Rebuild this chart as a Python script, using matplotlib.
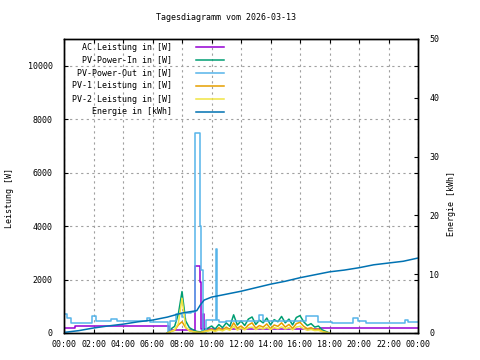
import matplotlib
matplotlib.use("Agg")
import matplotlib.pyplot as plt
from matplotlib.lines import Line2D

# time in hours of the day
t_ac = [0.0, 0.75, 7.1, 8.9, 9.25, 9.3, 9.45, 9.5, 17.35, 24.0]
ac_power = [200, 260, 120, 2500, 1900, 150, 700, 150, 175, 175]

t_out = [0.0, 0.2, 0.45, 1.9, 2.2, 3.2, 3.6, 5.6, 5.8, 7.05, 7.2, 7.6, 8.0, 8.2, 8.6,
         8.9, 9.25, 9.27, 9.4, 9.45, 9.6, 10.3, 10.4, 10.5, 11.0, 13.2, 13.5,
         16.4, 17.2, 18.2, 19.6, 19.95, 20.5, 23.1, 23.3, 24.0]
pv_out = [700, 560, 380, 620, 460, 530, 460, 560, 430, 0, 450, 700, 600, 750, 800,
          7500, 4000, 2350, 1875, 0, 500, 3150, 500, 420, 460, 675, 460,
          650, 425, 385, 550, 450, 385, 490, 420, 420]

t_pv = [7.0, 7.25, 7.5, 7.75, 8.0, 8.25, 8.5, 8.75, 9.0, 9.25, 9.5, 9.75,
        10.0, 10.25, 10.5, 10.75, 11.0, 11.25, 11.5, 11.75, 12.0, 12.25, 12.5, 12.75,
        13.0, 13.25, 13.5, 13.75, 14.0, 14.25, 14.5, 14.75, 15.0, 15.25, 15.5, 15.75,
        16.0, 16.25, 16.5, 16.75, 17.0, 17.25, 17.5, 17.75, 18.0]
pv_in = [0, 150, 250, 700, 1550, 450, 200, 120, 60, 40, 120, 180,
         260, 150, 320, 200, 380, 250, 680, 300, 450, 280, 520, 600,
         320, 480, 380, 560, 300, 500, 420, 620, 380, 520, 300, 580,
         650, 420, 280, 350, 220, 260, 120, 60, 0]
pv1 = [0, 60, 100, 300, 420, 200, 90, 50, 30, 20, 60, 90,
       140, 80, 200, 110, 220, 130, 380, 180, 260, 150, 300, 380,
       180, 280, 220, 340, 160, 300, 250, 380, 220, 320, 170, 350,
       400, 250, 160, 200, 120, 150, 60, 30, 0]
pv2 = [0, 50, 120, 350, 1300, 230, 80, 50, 20, 15, 40, 70,
       100, 60, 120, 80, 150, 100, 250, 110, 180, 120, 200, 220,
       130, 190, 150, 210, 130, 200, 160, 230, 150, 200, 120, 220,
       250, 160, 100, 130, 90, 100, 50, 20, 0]

t_energy = [0, 1, 2, 3, 4, 5, 6, 7, 8, 9, 9.25, 9.5, 10, 11, 12, 13, 14, 15, 16,
            17, 18, 19, 20, 21, 22, 23, 24]
energy = [0.1, 0.4, 0.85, 1.2, 1.5, 1.9, 2.2, 2.7, 3.4, 3.8, 4.8, 5.6, 6.1, 6.6, 7.1,
          7.7, 8.3, 8.8, 9.4, 9.9, 10.4, 10.7, 11.1, 11.6, 11.9, 12.2, 12.75]

hour_ticks = list(range(0, 25, 2))
hour_labels = ["%02d:00" % (h % 24) for h in hour_ticks]

labels = ["AC Leistung in [W]", "PV-Power-In in [W]", "PV-Power-Out in [W]",
          "PV-1 Leistung in [W]", "PV-2 Leistung in [W]", "Energie in [kWh]"]
colors = ["#9400d3", "#009e73", "#56b4e9", "#e69f00", "#f0e442", "#0072b2"]

plt.rcParams["font.family"] = "DejaVu Sans Mono"
plt.rcParams["font.size"] = 6

fig = plt.figure(figsize=(4.8, 3.6), dpi=100)
ax = fig.add_axes([64 / 480, 27 / 360, 354 / 480, 294 / 360])
ax2 = ax.twinx()

lw = 1.1
ax.plot(t_ac, ac_power, color=colors[0], lw=lw, drawstyle="steps-post")
ax.plot(t_pv, pv_in, color=colors[1], lw=lw)
ax.plot(t_out, pv_out, color=colors[2], lw=lw, drawstyle="steps-post")
ax.plot(t_pv, pv1, color=colors[3], lw=lw)
ax.plot(t_pv, pv2, color=colors[4], lw=lw)
ax2.plot(t_energy, energy, color=colors[5], lw=lw)

ax.set_xlim(0, 24)
ax.set_ylim(0, 11000)
ax2.set_ylim(0, 50)
ax.set_xticks(hour_ticks)
ax.set_xticklabels(hour_labels)
ax.set_yticks(range(0, 11000, 2000))
ax2.set_yticks(range(0, 51, 10))

ax.grid(True, color="#a0a0a0", linestyle=(0, (2, 3)), lw=0.8)
ax.tick_params(direction="in", length=3, width=0.8, top=True, right=True, pad=5)
ax.tick_params(axis="y", pad=8)
ax2.tick_params(direction="in", length=3, width=0.8, pad=8)
for a in (ax, ax2):
    for s in a.spines.values():
        s.set_linewidth(1.0)

fig.text(226 / 480, 1 - 18 / 360, "Tagesdiagramm vom 2026-03-13", ha="center", va="center")
fig.text(10 / 480, 1 - 198 / 360, "Leistung [W]", rotation=90, ha="center", va="center")
fig.text(452 / 480, 1 - 204 / 360, "Energie [kWh]", rotation=90, ha="center", va="center")

# gnuplot-style key: right-aligned text, sample line to the right
row_y = [47, 60, 73, 86, 99, 112]
for lab, col, py in zip(labels, colors, row_y):
    fy = 1 - py / 360
    fig.text(172 / 480, fy, lab, ha="right", va="center")
    fig.add_artist(Line2D([196 / 480, 224 / 480], [fy, fy], color=col, lw=1.1))

fig.savefig("out.png", dpi=100)
